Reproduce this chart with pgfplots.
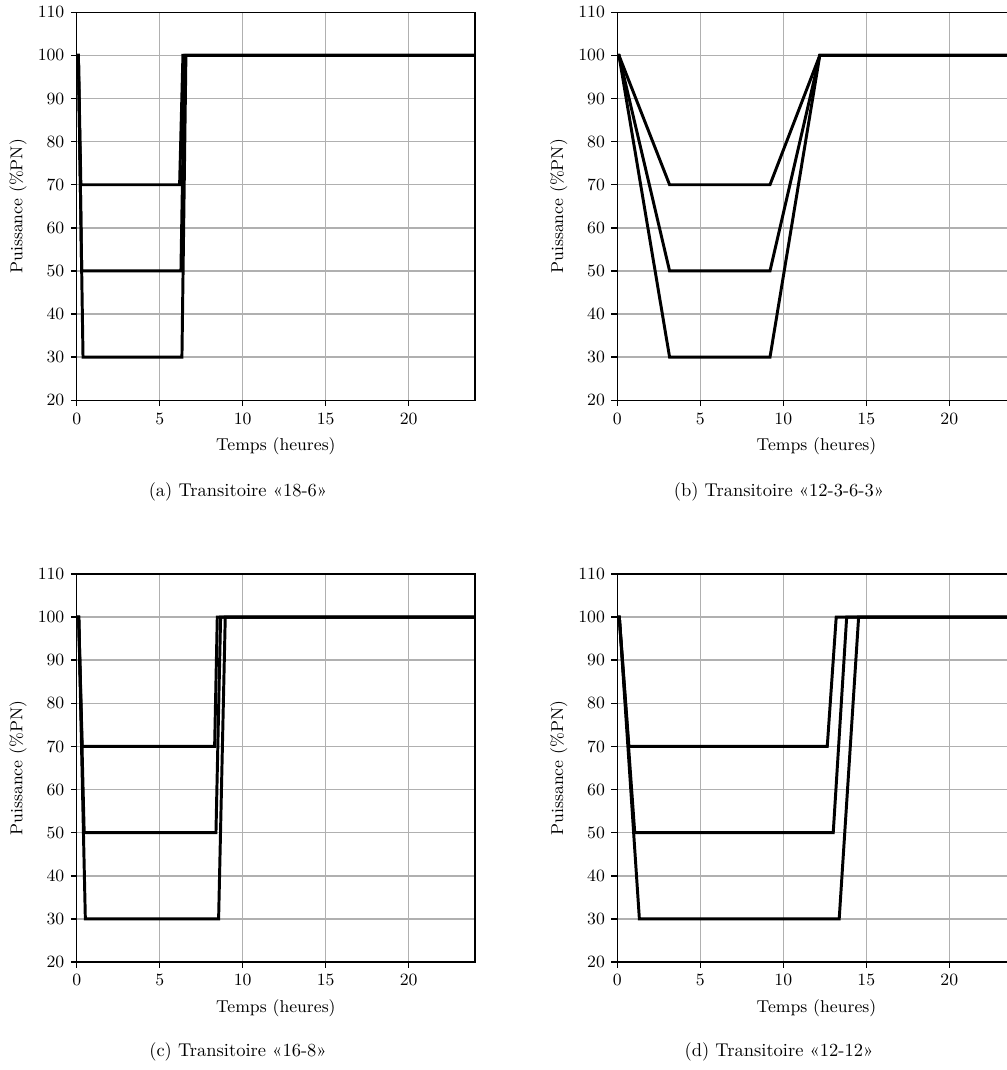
\documentclass[border=0pt]{standalone}
\usepackage{fontspec}
\usepackage{pgfplots}
\pgfplotsset{compat=1.18}

\definecolor{gridgray}{RGB}{176,176,176}
% positions below are reference pixels times 0.541pt, y downwards

\pgfplotsset{
  trans/.style={
    scale only axis,
    width=215.5pt, height=209.9pt,
    anchor=north west,
    xmin=0, xmax=24, ymin=20, ymax=110,
    xtick={0,5,10,15,20},
    ytick={20,30,...,110},
    grid=major,
    major grid style={color=gridgray, line width=0.8pt},
    axis line style={line width=0.8pt},
    tick align=outside,
    tick pos=left,
    major tick length=3.2pt,
    tick style={black, line width=0.8pt},
    /pgf/number format/assume math mode=true,
    ticklabel style={font=\fontsize{9.3}{11}\selectfont},
    label style={font=\fontsize{9.3}{11}\selectfont},
    xlabel={Temps (heures)},
    ylabel={Puissance (\%PN)},
    xlabel style={at={(axis description cs:0.5,-0.118)}, anchor=center},
    ylabel style={at={(axis description cs:-0.147,0.5)}, anchor=center},
    cycle list={black,line width=1.6pt\\},
    no markers,
  }
}

\begin{document}
\begin{tikzpicture}
\path[use as bounding box, clip] (0pt,0pt) rectangle (544.79pt,-578.87pt);

% (a) 18-6
\begin{axis}[trans, at={(41.50pt,-6.65pt)}]
\addplot coordinates {(0,100) (0.1,100) (0.25,70) (6.2,70) (6.4,100) (24,100)};
\addplot coordinates {(0,100) (0.1,100) (0.3,50) (6.28,50) (6.5,100) (24,100)};
\addplot coordinates {(0,100) (0.1,100) (0.38,30) (6.34,30) (6.58,100) (24,100)};
\end{axis}

% (b) 12-3-6-3
\begin{axis}[trans, at={(333.96pt,-6.65pt)}]
\addplot coordinates {(0,100) (0.1,100) (3.15,70) (9.2,70) (12.2,100) (24,100)};
\addplot coordinates {(0,100) (0.1,100) (3.15,50) (9.2,50) (12.2,100) (24,100)};
\addplot coordinates {(0,100) (0.1,100) (3.15,30) (9.2,30) (12.2,100) (24,100)};
\end{axis}

% (c) 16-8
\begin{axis}[trans, at={(41.50pt,-310.53pt)}]
\addplot coordinates {(0,100) (0.12,100) (0.33,70) (8.31,70) (8.47,100) (24,100)};
\addplot coordinates {(0,100) (0.12,100) (0.45,50) (8.39,50) (8.67,100) (24,100)};
\addplot coordinates {(0,100) (0.12,100) (0.52,30) (8.55,30) (8.95,100) (24,100)};
\end{axis}

% (d) 12-12
\begin{axis}[trans, at={(333.96pt,-310.53pt)}]
\addplot coordinates {(0,100) (0.12,100) (0.7,70) (12.65,70) (13.19,100) (24,100)};
\addplot coordinates {(0,100) (0.12,100) (1.05,50) (13.01,50) (13.82,100) (24,100)};
\addplot coordinates {(0,100) (0.12,100) (1.33,30) (13.37,30) (14.54,100) (24,100)};
\end{axis}

\node[font=\fontsize{10}{12}\selectfont] at (128.76pt,-266.17pt) {(a) Transitoire «18-6»};
\node[font=\fontsize{10}{12}\selectfont] at (421.44pt,-266.17pt) {(b) Transitoire «12-3-6-3»};
\node[font=\fontsize{10}{12}\selectfont] at (128.76pt,-569.13pt) {(c) Transitoire «16-8»};
\node[font=\fontsize{10}{12}\selectfont] at (421.44pt,-569.13pt) {(d) Transitoire «12-12»};
\end{tikzpicture}
\end{document}
